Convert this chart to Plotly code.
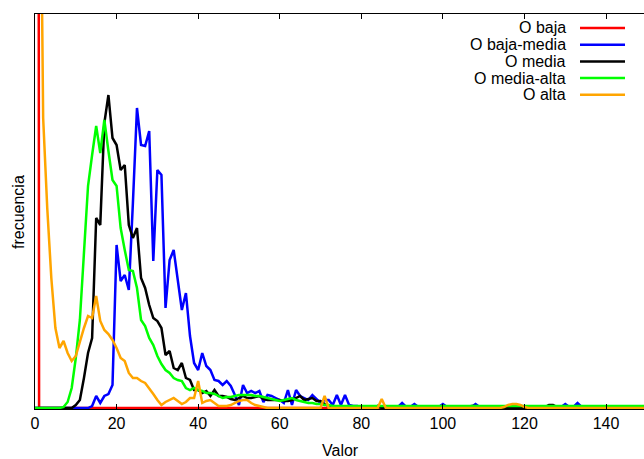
import plotly.graph_objects as go

# ---------------- data ----------------
valores = list(range(0, 151))
tick_values = [0, 20, 40, 60, 80, 100, 120, 140]
tick_labels = ["0", "20", "40", "60", "80", "100", "120", "140"]

series_names = ["O baja", "O baja-media", "O media", "O media-alta", "O alta"]
series_colors = ["#ff0000", "#0000ff", "#000000", "#00ff00", "#ffa500"]

o_baja = [
    5000, 0, 0, 0, 0, 0, 0, 0, 0, 0,
    0, 0, 0, 0, 0, 0, 0, 0, 0, 0,
    0, 0, 0, 0, 0, 0, 0, 0, 0, 0,
    0, 0, 0, 0, 0, 0, 0, 0, 0, 0,
    0, 0, 0, 0, 0, 0, 0, 0, 0, 0,
    0, 0, 0, 0, 0, 0, 0, 0, 0, 0,
    0, 0, 0, 0, 0, 0, 0, 0, 0, 0,
    0, 0, 0, 0, 0, 0, 0, 0, 0, 0,
    0, 0, 0, 0, 0, 0, 0, 0, 0, 0,
    0, 0, 0, 0, 0, 0, 0, 0, 0, 0,
    0, 0, 0, 0, 0, 0, 0, 0, 0, 0,
    0, 0, 0, 0, 0, 0, 0, 0, 0, 0,
    0, 0, 0, 0, 0, 0, 0, 0, 0, 0,
    0, 0, 0, 0, 0, 0, 0, 0, 0, 0,
    0, 0, 0, 0, 0, 0, 0, 0, 0, 0,
    0,
]

o_baja_media = [
    0, 0, 0, 0, 0, 0, 0, 0, 0, 0,
    0, 0, 0, 0, 2, 12, 5, 12, 14, 23,
    163, 127, 133, 118, 205, 300, 263, 262, 277, 147,
    238, 233, 100, 148, 158, 127, 98, 115, 72, 45,
    38, 55, 42, 38, 28, 27, 23, 27, 22, 13,
    3, 23, 15, 17, 15, 17, 6, 13, 12, 10,
    8, 5, 18, 3, 18, 12, 10, 8, 13, 9,
    5, 8, 8, 3, 13, 3, 13, 3, 2, 2,
    1, 1, 1, 1, 1, 1, 1, 1, 1, 1,
    5, 1, 1, 4, 1, 1, 1, 1, 1, 1,
    4, 1, 1, 1, 1, 1, 1, 1, 4, 1,
    1, 1, 1, 1, 1, 1, 1, 1, 1, 1,
    1, 1, 1, 1, 1, 1, 1, 1, 1, 1,
    4, 1, 1, 5, 1, 1, 1, 1, 1, 1,
    1, 1, 1, 1, 1, 1, 1, 1, 1, 1,
    1,
]

o_media = [
    0, 0, 0, 0, 0, 0, 0, 0, 0, 0,
    3, 8, 30, 55, 70, 190, 183, 285, 313, 270,
    263, 238, 243, 183, 170, 180, 130, 120, 103, 90,
    87, 80, 53, 57, 40, 38, 45, 30, 28, 18,
    18, 15, 17, 12, 18, 12, 12, 11, 9, 8,
    10, 12, 10, 10, 11, 12, 9, 8, 8, 8,
    8, 7, 7, 8, 10, 12, 8, 9, 10, 7,
    7, 4, 2, 1, 0, 0, 0, 0, 0, 0,
    0, 0, 0, 0, 2, 0, 0, 0, 0, 0,
    0, 0, 0, 0, 0, 0, 0, 0, 0, 0,
    0, 0, 0, 0, 0, 0, 1, 2, 2, 1,
    0, 0, 0, 0, 0, 0, 0, 0, 0, 0,
    0, 0, 0, 0, 0, 1, 3, 3, 1, 0,
    0, 0, 0, 0, 0, 0, 0, 0, 0, 0,
    0, 0, 0, 0, 0, 0, 0, 0, 0, 0,
    0,
]

o_media_alta = [
    0, 0, 0, 0, 0, 0, 0, 1, 6, 20,
    50, 88, 155, 222, 253, 282, 255, 288, 257, 228,
    222, 180, 158, 138, 137, 120, 88, 82, 70, 63,
    52, 44, 38, 35, 30, 28, 27, 20, 18, 20,
    18, 17, 15, 15, 14, 12, 10, 11, 11, 12,
    13, 13, 13, 13, 12, 12, 11, 10, 9, 8,
    7, 8, 9, 10, 8, 7, 6, 5, 5, 4,
    4, 3, 3, 2, 2, 2, 2, 2, 2, 2,
    2, 2, 2, 2, 2, 2, 2, 2, 2, 2,
    2, 2, 2, 2, 2, 2, 2, 2, 2, 2,
    2, 2, 2, 2, 2, 2, 2, 2, 2, 2,
    2, 2, 2, 2, 2, 2, 2, 2, 2, 2,
    2, 2, 2, 2, 2, 2, 2, 2, 2, 2,
    2, 2, 2, 2, 2, 2, 2, 2, 2, 2,
    2, 2, 2, 2, 2, 2, 2, 2, 2, 2,
    2,
]

o_alta = [
    3000, 700, 290, 200, 130, 80, 60, 67, 55, 47,
    52, 67, 80, 92, 90, 112, 87, 78, 74, 68,
    60, 50, 47, 35, 30, 30, 27, 25, 20, 14,
    8, 3, 6, 8, 10, 7, 4, 6, 10, 10,
    27, 5, 7, 8, 5, 2, 2, 2, 3, 5,
    7, 8, 8, 5, 3, 2, 1, 0, 0, 0,
    0, 0, 0, 0, 0, 0, 0, 0, 0, 0,
    0, 12, 0, 0, 0, 0, 0, 0, 0, 0,
    0, 0, 0, 0, 0, 9, 0, 0, 0, 0,
    0, 0, 0, 0, 0, 0, 0, 0, 0, 0,
    0, 0, 0, 0, 0, 0, 0, 0, 0, 0,
    0, 0, 0, 0, 0, 1, 3, 4, 4, 3,
    1, 0, 0, 0, 0, 0, 0, 0, 0, 0,
    0, 0, 0, 0, 0, 0, 0, 0, 0, 0,
    0, 0, 0, 0, 0, 0, 0, 0, 0, 0,
    0,
]

all_series = [o_baja, o_baja_media, o_media, o_media_alta, o_alta]

# ---------------- figure ----------------
FONT = "Liberation Sans, Arial, Helvetica, sans-serif"
W, H = 644, 459
# plot area in window pixels: x 35..644, y 14..409
ML, MR, MT, MB = 35, 0, 14, H - 409
PW, PH = W - ML - MR, H - MT - MB

def px_x(px):
    return (px - ML) / PW

def px_y(py):
    return (H - MB - py) / PH

fig = go.Figure()
for name, color, ys in zip(series_names, series_colors, all_series):
    fig.add_trace(go.Scatter(
        x=valores, y=ys, mode="lines", name=name,
        line=dict(color=color, width=2.5),
        hoverinfo="skip",
    ))

annotations = []
shapes = []
legend_rows_y = [28, 44.7, 61.4, 78.1, 94.8]
for name, color, py in zip(series_names, series_colors, legend_rows_y):
    annotations.append(dict(
        x=px_x(568), y=px_y(py), xref="paper", yref="paper",
        text=name, showarrow=False, xanchor="right", yanchor="middle",
        font=dict(family=FONT, size=16, color="#000000"),
    ))
    shapes.append(dict(
        type="line", xref="paper", yref="paper",
        x0=px_x(580), x1=px_x(625), y0=px_y(py), y1=px_y(py),
        line=dict(color=color, width=2.5),
    ))

annotations.append(dict(
    x=px_x(340), y=px_y(451), xref="paper", yref="paper",
    text="Valor", showarrow=False, xanchor="center", yanchor="middle",
    font=dict(family=FONT, size=16, color="#000000"),
))
annotations.append(dict(
    x=px_x(18), y=px_y(212), xref="paper", yref="paper",
    text="frecuencia", showarrow=False, xanchor="center", yanchor="middle",
    textangle=-90,
    font=dict(family=FONT, size=16, color="#000000"),
))

fig.update_layout(
    width=W, height=H,
    margin=dict(l=ML, r=MR, t=MT, b=MB, pad=0),
    paper_bgcolor="white", plot_bgcolor="white",
    showlegend=False,
    hovermode=False,
    font=dict(family=FONT, size=16, color="#000000"),
    annotations=annotations,
    shapes=shapes,
    xaxis=dict(
        range=[0, 149.3], tickvals=tick_values, ticktext=tick_labels,
        ticks="inside", ticklen=5, tickwidth=1, tickcolor="#000000",
        showline=True, linecolor="#000000", linewidth=1, mirror="ticks",
        showgrid=False, zeroline=False,
        tickfont=dict(family=FONT, size=16, color="#000000"),
    ),
    yaxis=dict(
        range=[-1, 394],
        showline=True, linecolor="#000000", linewidth=1, mirror=False,
        showticklabels=False, ticks="", showgrid=False, zeroline=False,
    ),
)

# remove the browser's default page margin so the figure sits at (0, 0)
page_fix = (
    "document.documentElement.style.margin='0';"
    "document.documentElement.style.overflow='hidden';"
    "document.body.style.margin='0';"
    "document.body.style.overflow='hidden';"
)

fig.write_html("out.html", post_script=page_fix,
               config={"displayModeBar": False})
